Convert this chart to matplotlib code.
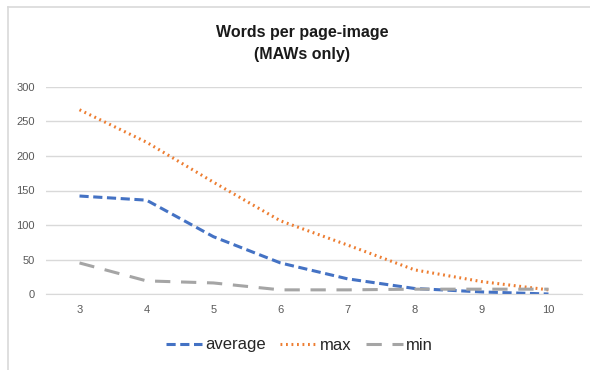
import matplotlib.pyplot as plt
from matplotlib.lines import Line2D

# data
pages = ["3", "4", "5", "6", "7", "8", "9", "10"]
average = [142, 136, 83, 45, 22, 8, 3, 0]
maximum = [267, 220, 162, 106, 71, 35, 18, 6]
minimum = [45, 19, 16, 6, 6, 7, 7, 7]

W, H = 590, 370
fig = plt.figure(figsize=(W / 100, H / 100), dpi=100)
plt.rcParams['font.family'] = ['Liberation Sans', 'DejaVu Sans']

# plot area in pixels: x 46..582, y 87..294
ax = fig.add_axes([46 / W, 1 - 294 / H, (582 - 46) / W, (294 - 87) / H])

x = range(len(pages))
ax.plot(x, average, color="#4472C4", lw=2.2, linestyle=(0, (3, 1.5)), label="average")
ax.plot(x, maximum, color="#ED7D31", lw=2.2, linestyle=(0, (0.6, 1.2)), label="max")
ax.plot(x, minimum, color="#A5A5A5", lw=2.2, linestyle=(0, (5, 3.5)), label="min")

ax.set_xlim(-0.5, len(pages) - 0.5)
ax.set_ylim(0, 300)
ax.set_yticks(range(0, 301, 50))
ax.set_xticks(list(x))
ax.set_xticklabels(pages)
ax.grid(axis="y", color="#D9D9D9", lw=1)
ax.set_axisbelow(True)
for s in ["top", "right", "left"]:
    ax.spines[s].set_visible(False)
ax.spines["bottom"].set_color("#D9D9D9")
ax.tick_params(axis="both", length=0, labelsize=8, labelcolor="#595959")
ax.tick_params(axis="x", pad=8)
ax.tick_params(axis="y", pad=8)

fig.text(302 / W, 1 - 32 / H, "Words per page-image", ha="center", va="center",
         fontsize=11.5, fontweight="bold", color="#1a1a1a")
fig.text(302 / W, 1 - 54 / H, "(MAWs only)", ha="center", va="center",
         fontsize=11.5, fontweight="bold", color="#1a1a1a")

fig.legend(loc="center", bbox_to_anchor=(299 / W, 1 - 345 / H), ncol=3, frameon=False,
           fontsize=12, handlelength=2.2, handletextpad=0.15, columnspacing=0.9,
           labelcolor="#262626")

# chart frame (top and left edges visible)
fig.add_artist(Line2D([8 / W, 1], [1 - 7 / H, 1 - 7 / H], color="#D9D9D9", lw=1.2))
fig.add_artist(Line2D([8 / W, 8 / W], [0, 1 - 7 / H], color="#D9D9D9", lw=1.2))

fig.savefig("out.png", dpi=100)
